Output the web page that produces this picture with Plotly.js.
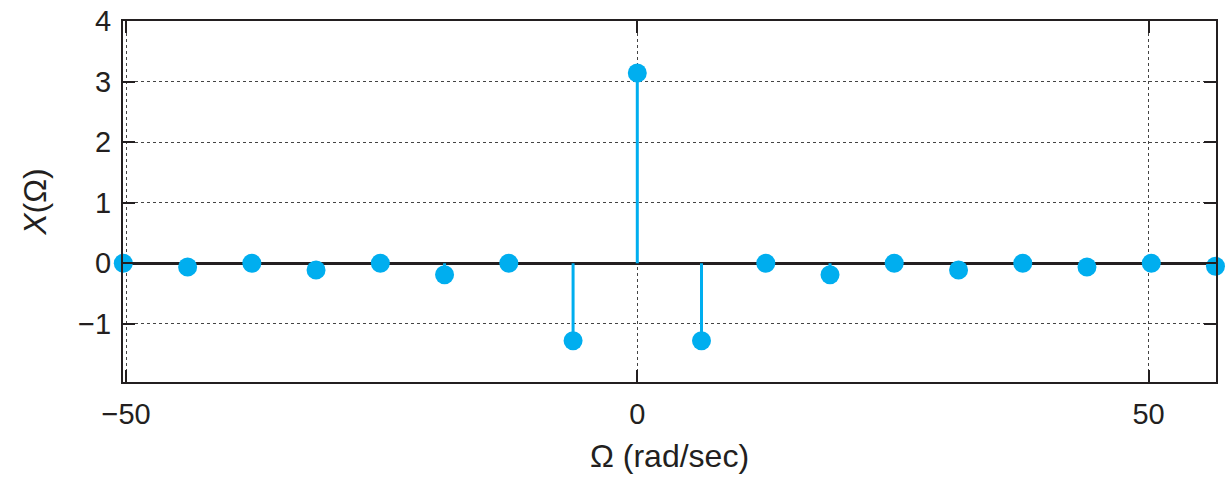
<!DOCTYPE html>
<html>
<head>
<meta charset="utf-8">
<script src="https://cdn.plot.ly/plotly-3.0.1.min.js"></script>
<style>html,body{margin:0;padding:0;background:#fff;}#chart{width:1231px;height:478px;}</style>
</head>
<body>
<div id="chart"></div>
<script>
// Frequencies (rad/sec) (harmonics spaced ~6.28 apart)
var omega = [-50.27, -43.98, -37.70, -31.42, -25.13, -18.85, -12.57, -6.28, 0, 6.28, 12.57, 18.85, 25.13, 31.42, 37.70, 43.98, 50.27, 56.55];
// X(Omega) values
var Xvals = [0, -0.06, 0, -0.11, 0, -0.19, 0, -1.28, 3.14, -1.28, 0, -0.19, 0, -0.11, 0, -0.06, 0, -0.05];
var xTickVals = [-50, 0, 50];
var xTickText = ['\u221250', '0', '50'];
var yTickVals = [-1, 0, 1, 2, 3, 4];
var yTickText = ['\u22121', '0', '1', '2', '3', '4'];

var stemX = [], stemY = [];
for (var i = 0; i < omega.length; i++) {
  stemX.push(omega[i], omega[i], null);
  stemY.push(0, Xvals[i], null);
}
var blue = '#00AEEF';
var ink = '#231f20';
var traces = [
  {x: stemX, y: stemY, mode: 'lines', line: {color: blue, width: 3}, hoverinfo: 'skip', showlegend: false, cliponaxis: false},
  {x: omega, y: Xvals, mode: 'markers', marker: {color: blue, size: 19}, showlegend: false, cliponaxis: false}
];
var fontFam = 'Liberation Sans, Arial, Helvetica, sans-serif';
var layout = {
  width: 1231, height: 478,
  margin: {l: 123, r: 15, t: 21, b: 96},
  paper_bgcolor: '#fff', plot_bgcolor: '#fff',
  showlegend: false,
  font: {family: fontFam, color: ink, size: 29},
  xaxis: {
    range: [-50.3, 56.6],
    tickmode: 'array', tickvals: xTickVals, ticktext: xTickText,
    ticks: 'inside', ticklen: 12, tickwidth: 2, tickcolor: ink,
    showline: true, linecolor: ink, linewidth: 2, mirror: 'ticks',
    showgrid: true, gridcolor: '#444', gridwidth: 1, griddash: 'dot',
    zeroline: false,
    tickfont: {family: fontFam, size: 29, color: ink},
    ticklabelstandoff: 5,
    title: {text: '\u03A9 (rad/sec)', font: {family: fontFam, size: 32, color: ink}, standoff: 16}
  },
  yaxis: {
    range: [-1.96, 4.0],
    tickmode: 'array', tickvals: yTickVals, ticktext: yTickText,
    ticks: 'inside', ticklen: 12, tickwidth: 2, tickcolor: ink,
    showline: true, linecolor: ink, linewidth: 2, mirror: 'ticks',
    showgrid: true, gridcolor: '#444', gridwidth: 1, griddash: 'dot',
    zeroline: true, zerolinecolor: ink, zerolinewidth: 2.5,
    tickfont: {family: fontFam, size: 29, color: ink},
    ticklabelstandoff: 4,
    title: {text: '<i>X</i>(\u03A9)', font: {family: fontFam, size: 32, color: ink}, standoff: 22}
  }
};
Plotly.newPlot('chart', traces, layout, {displayModeBar: false, staticPlot: true});
</script>
</body>
</html>
